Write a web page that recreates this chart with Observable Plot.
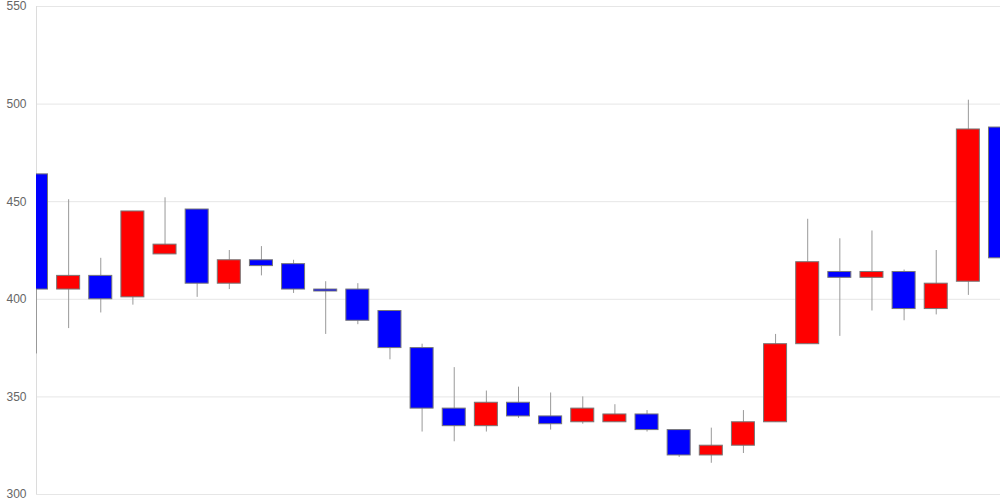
<!DOCTYPE html>
<html>
<head>
<meta charset="utf-8">
<script src="https://cdn.jsdelivr.net/npm/d3@7"></script>
<script src="https://cdn.jsdelivr.net/npm/@observablehq/plot@0.6"></script>
<style>
  html, body { margin: 0; padding: 0; background: #fff; }
  #chart svg { display: block; }
</style>
</head>
<body>
<div id="chart"></div>
<script>
const days   = d3.range(31);
const opens  = [464,405,412,401,423,446,408,420,418,405,405,394,375,344,335,347,340,337,337,341,333,320,325,337,377,414,411,414,395,409,488];
const closes = [405,412,400,445,428,408,420,417,405,404,389,375,344,335,347,340,336,344,341,333,320,325,337,377,419,411,414,395,408,487,421];
const highs  = [464,451,421,445,452,446,425,427,420,409,408,394,377,365,353,355,352,350,346,343,333,334,343,382,441,431,435,415,425,502,488];
const lows   = [372,385,393,397,423,401,405,412,403,382,387,369,332,327,332,339,333,336,337,332,319,316,321,337,377,381,394,389,392,402,411];
const yTicks = [300,350,400,450,500,550];

const data = days.map((d, i) => ({
  day: d, open: opens[i], close: closes[i], high: highs[i], low: lows[i]
}));

const halfW = 0.358;

const chart = Plot.plot({
  width: 1000,
  height: 500,
  marginTop: 6,
  marginBottom: 6,
  marginLeft: 36,
  marginRight: 0,
  style: { fontFamily: "Liberation Sans, Arial, sans-serif", fontSize: "12px", background: "#fff" },
  x: { type: "linear", domain: [0, 30], axis: null },
  y: { domain: [300, 550], ticks: yTicks },
  marks: [
    Plot.gridY(yTicks, { stroke: "#e6e6e6", strokeOpacity: 1 }),
    Plot.ruleX([0], { stroke: "#dcdcdc" }),
    Plot.axisY(yTicks, { tickSize: 0, tickPadding: 10, color: "#666", fontSize: 12 }),
    Plot.ruleX(data, { x: "day", y1: "low", y2: "high", stroke: "#999", strokeWidth: 1, clip: true }),
    Plot.rect(data, {
      x1: d => d.day - halfW,
      x2: d => d.day + halfW,
      y1: "open",
      y2: "close",
      fill: d => d.close >= d.open ? "#ff0000" : "#0000ff",
      stroke: "#777",
      strokeWidth: 1,
      inset: 0,
      clip: true
    })
  ]
});

document.getElementById("chart").appendChild(chart);
</script>
</body>
</html>
